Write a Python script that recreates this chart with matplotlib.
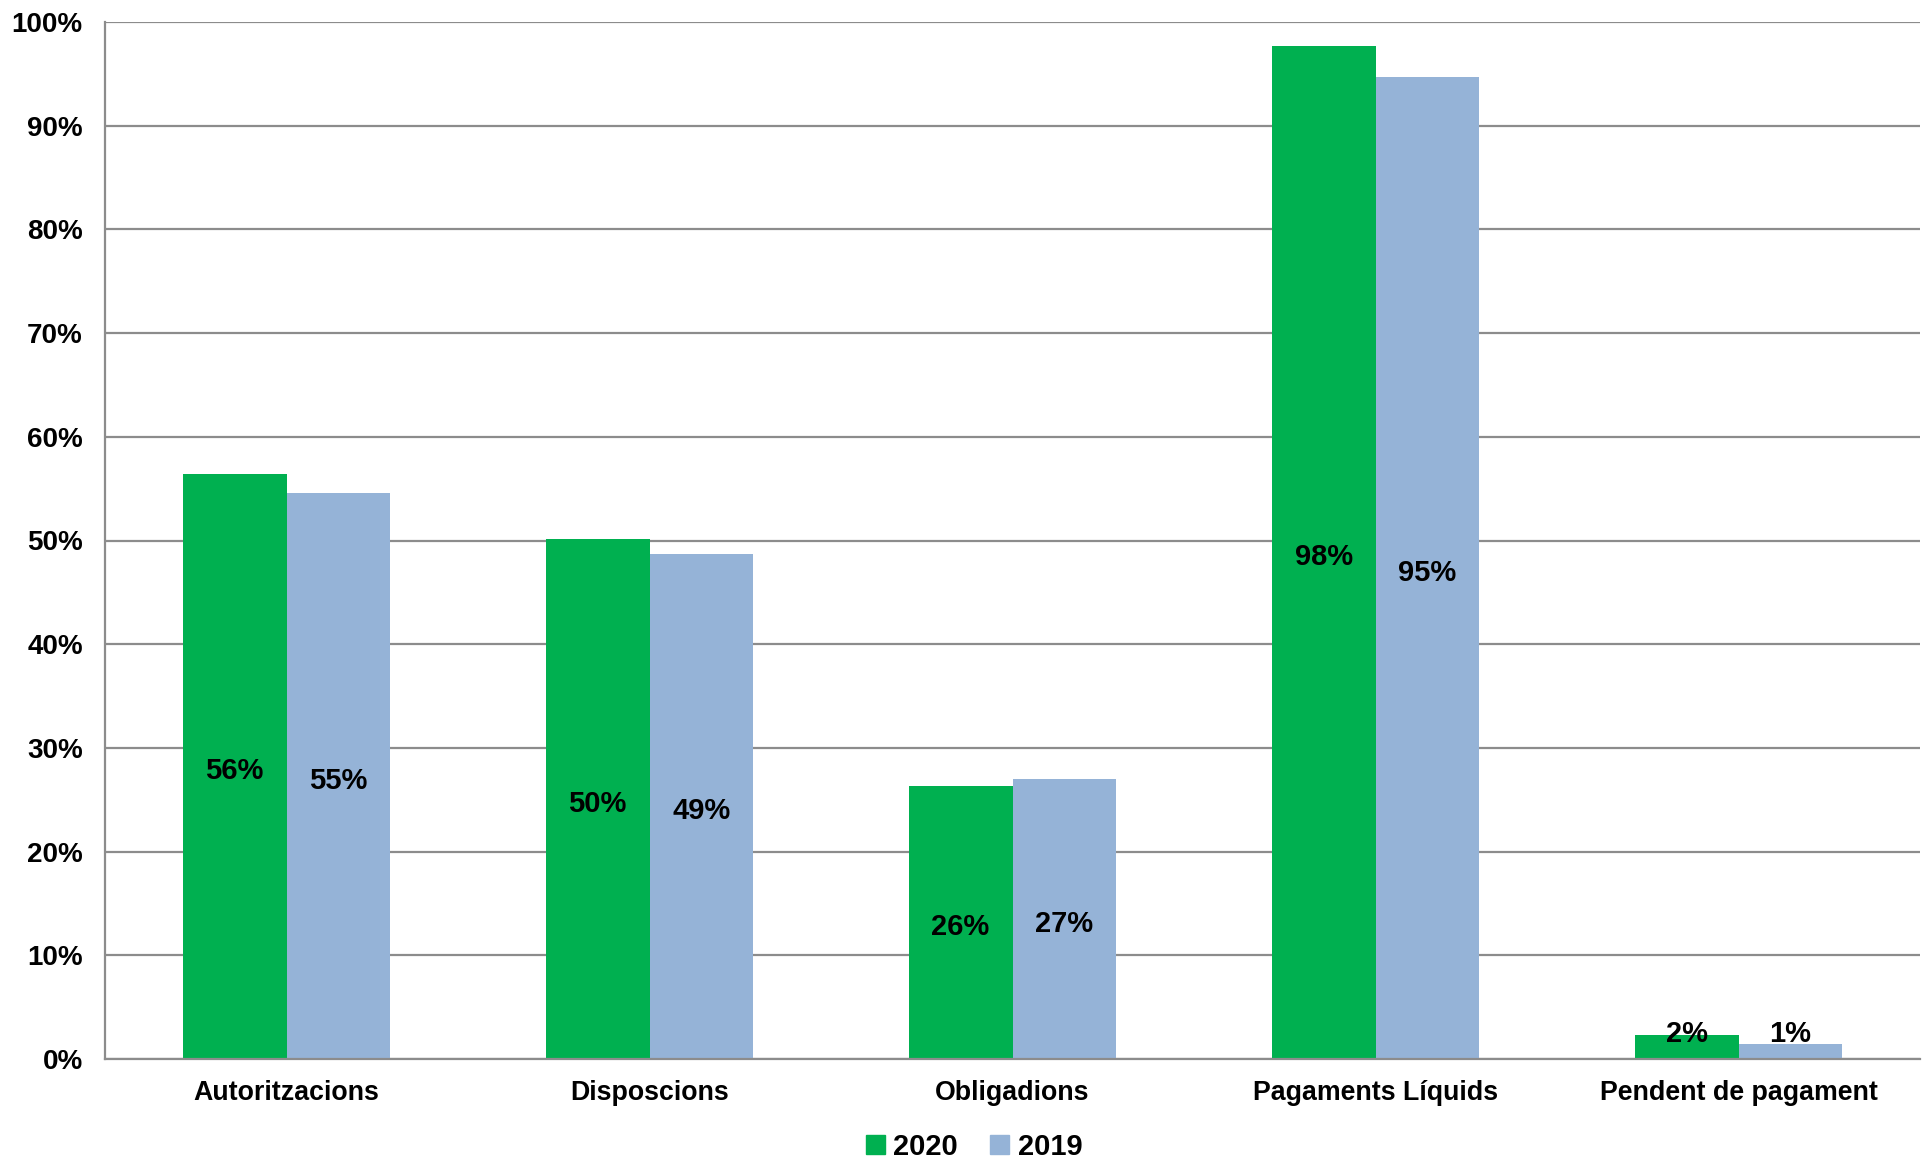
import matplotlib
matplotlib.use("Agg")
import matplotlib.pyplot as plt
import matplotlib.transforms as mtransforms
import numpy as np
from matplotlib.patches import Patch

categories = ["Autoritzacions", "Disposcions", "Obligadions", "Pagaments Líquids", "Pendent de pagament"]
vals_2020 = [56.4, 50.1, 26.3, 97.7, 2.3]
vals_2019 = [54.6, 48.7, 27.0, 94.7, 1.4]
labels_2020 = ["56%", "50%", "26%", "98%", "2%"]
labels_2019 = ["55%", "49%", "27%", "95%", "1%"]
series_names = ["2020", "2019"]
yticks = [0, 10, 20, 30, 40, 50, 60, 70, 80, 90, 100]
ytick_labels = [f"{t}%" for t in yticks]

GREEN = "#00B050"
BLUE = "#95B3D7"
GRID = "#8C8C8C"

plt.rcParams['font.family'] = ['Liberation Sans', 'DejaVu Sans']
plt.rcParams['font.weight'] = 'bold'

fig = plt.figure(figsize=(19.26, 11.61), dpi=100)
ax = fig.add_axes([105/1926, 1 - 1059/1161, (1920-105)/1926, (1059-22)/1161])

x = np.arange(len(categories))
w = 0.286
b1 = ax.bar(x - w/2, vals_2020, w, color=GREEN, zorder=3)
b2 = ax.bar(x + w/2, vals_2019, w, color=BLUE, zorder=3)

shift = mtransforms.offset_copy(ax.transData, fig=fig, x=0, y=-3.5, units='points')
for xi, v, lab in zip(x - w/2, vals_2020, labels_2020):
    ax.text(xi, max(v/2, 2.9), lab, ha='center', va='center', fontsize=21,
            fontweight='bold', zorder=4, transform=shift)
for xi, v, lab in zip(x + w/2, vals_2019, labels_2019):
    ax.text(xi, max(v/2, 2.9), lab, ha='center', va='center', fontsize=21,
            fontweight='bold', zorder=4, transform=shift)

ax.set_xlim(-0.5, len(categories) - 0.5)
ax.set_ylim(0, 100)
ax.set_yticks(yticks)
ax.set_yticklabels(ytick_labels, fontsize=20, fontweight='bold')
ax.set_xticks(x)
ax.set_xticklabels(categories, fontsize=19.3, fontweight='bold')
ax.tick_params(axis='both', length=0)
ax.tick_params(axis='y', pad=16)
ax.tick_params(axis='x', pad=15)
ax.yaxis.grid(True, color=GRID, linewidth=1.6, zorder=0)
ax.set_axisbelow(True)
for s in ['top', 'right']:
    ax.spines[s].set_visible(False)
ax.spines['left'].set_color(GRID)
ax.spines['left'].set_linewidth(1.6)
ax.spines['bottom'].set_color(GRID)
ax.spines['bottom'].set_linewidth(1.6)
ax.spines['bottom'].set_zorder(5)

handles = [Patch(color=GREEN), Patch(color=BLUE)]
fig.legend(handles, series_names, loc='center', bbox_to_anchor=(974/1926, 1 - 1147/1161),
           ncol=2, frameon=False, handlelength=0.65, handleheight=0.65,
           handletextpad=0.3, columnspacing=1.1, prop={'weight': 'bold', 'size': 21})

fig.savefig("out.png", dpi=100)
